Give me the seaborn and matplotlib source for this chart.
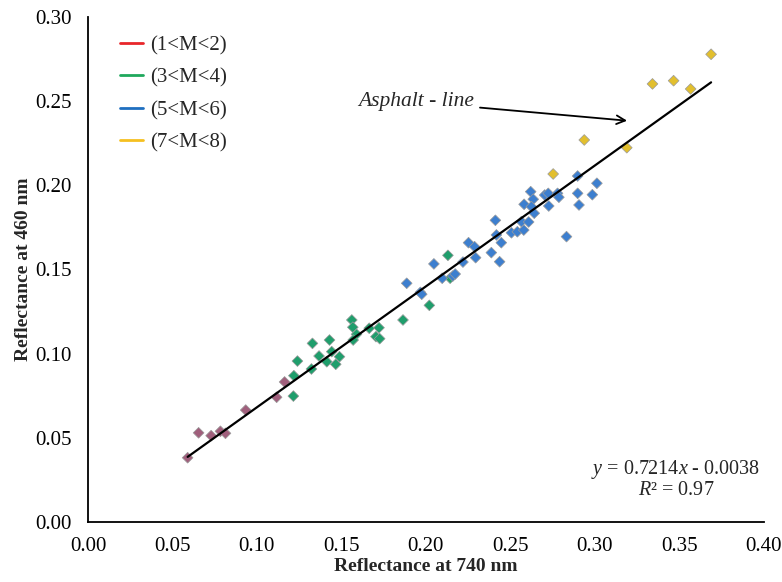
import numpy as np
import pandas as pd
import seaborn as sns
import matplotlib.pyplot as plt
from matplotlib.lines import Line2D

# reflectance values, per magnitude group
x_m12 = [0.0590, 0.0655, 0.0729, 0.0784, 0.0814, 0.0934, 0.1117, 0.1164]
y_m12 = [0.0382, 0.0530, 0.0513, 0.0539, 0.0527, 0.0665, 0.0741, 0.0832]

x_m34 = [0.1216, 0.1219, 0.1240, 0.1329, 0.1323, 0.1368, 0.1414, 0.1430,
         0.1443, 0.1467, 0.1489, 0.1562, 0.1568, 0.1590, 0.1570, 0.1665,
         0.1705, 0.1727, 0.1723, 0.1865, 0.2021, 0.2131, 0.2144]
y_m34 = [0.0748, 0.0869, 0.0956, 0.1061, 0.0909, 0.0986, 0.0952, 0.1081,
         0.1012, 0.0937, 0.0982, 0.1200, 0.1157, 0.1115, 0.1081, 0.1151,
         0.1101, 0.1089, 0.1154, 0.1200, 0.1287, 0.1584, 0.1448]

x_m56 = [0.1887, 0.1968, 0.1976, 0.2048, 0.2097, 0.2160, 0.2174, 0.2220,
         0.2253, 0.2289, 0.2295, 0.2388, 0.2412, 0.2418, 0.2437, 0.2447,
         0.2507, 0.2542, 0.2580, 0.2566, 0.2609, 0.2582, 0.2621, 0.2636,
         0.2625, 0.2642, 0.2704, 0.2725, 0.2728, 0.2780, 0.2788, 0.2833,
         0.2899, 0.2899, 0.2907, 0.2986, 0.3013]
y_m56 = [0.1418, 0.1364, 0.1353, 0.1533, 0.1448, 0.1461, 0.1473, 0.1544,
         0.1659, 0.1635, 0.1570, 0.1600, 0.1792, 0.1705, 0.1546, 0.1659,
         0.1718, 0.1724, 0.1734, 0.1784, 0.1782, 0.1887, 0.1962, 0.1917,
         0.1873, 0.1834, 0.1942, 0.1952, 0.1877, 0.1952, 0.1929, 0.1695,
         0.2055, 0.1952, 0.1883, 0.1944, 0.2012]

x_m78 = [0.2754, 0.2938, 0.3190, 0.3342, 0.3467, 0.3568, 0.3689]
y_m78 = [0.2067, 0.2269, 0.2223, 0.2602, 0.2621, 0.2572, 0.2778]

groups = ["(1<M<2)", "(3<M<4)", "(5<M<6)", "(7<M<8)"]
marker_colors = ["#a05f7c", "#1f9e6c", "#3d7fcf", "#e2bf2e"]
legend_colors = ["#e8262a", "#1fa85c", "#1f6fc0", "#f5c020"]

df = pd.concat([
    pd.DataFrame({"x": x_m12, "y": y_m12, "group": groups[0]}),
    pd.DataFrame({"x": x_m34, "y": y_m34, "group": groups[1]}),
    pd.DataFrame({"x": x_m56, "y": y_m56, "group": groups[2]}),
    pd.DataFrame({"x": x_m78, "y": y_m78, "group": groups[3]}),
], ignore_index=True)

sns.set_style("white")
plt.rcParams["font.family"] = ["Liberation Serif", "DejaVu Serif"]
plt.rcParams["mathtext.fontset"] = "custom"
plt.rcParams["mathtext.rm"] = "Liberation Serif"
plt.rcParams["mathtext.it"] = "Liberation Serif:italic"

fig = plt.figure(figsize=(7.82, 5.82), dpi=100)
ax = fig.add_axes([0.1125, 0.103, 0.864, 0.868])

sns.scatterplot(data=df, x="x", y="y", hue="group", palette=marker_colors,
                marker="D", s=30, edgecolor="#9a9a9a", linewidth=0.5,
                legend=False, ax=ax, zorder=3)
sns.regplot(data=df, x="x", y="y", scatter=False, ci=None, ax=ax,
            line_kws={"color": "black", "linewidth": 1.6, "zorder": 4})

ax.set_xlim(0, 0.40)
ax.set_ylim(0, 0.30)
ax.set_xticks(np.arange(0, 0.401, 0.05))
ax.set_yticks(np.arange(0, 0.301, 0.05))
ax.xaxis.set_major_formatter(plt.FormatStrFormatter("%.2f"))
ax.yaxis.set_major_formatter(plt.FormatStrFormatter("%.2f"))
ax.tick_params(direction="in", length=5, width=1.2, labelsize=15,
               colors="black")
ax.tick_params(axis="x", pad=11)
ax.tick_params(axis="y", pad=12)
for side in ["top", "right"]:
    ax.spines[side].set_visible(False)
for side in ["left", "bottom"]:
    ax.spines[side].set_color("black")
    ax.spines[side].set_linewidth(1.3)

ax.set_xlabel("Reflectance at 740 nm", fontsize=14, fontweight="bold", labelpad=1)
ax.set_ylabel("Reflectance at 460 nm", fontsize=14, fontweight="bold", labelpad=2)

handles = [Line2D([0], [0], color=c, lw=2) for c in legend_colors]
ax.legend(handles, groups, loc="upper left", bbox_to_anchor=(0.02, 1.0),
          frameon=False, fontsize=15, handlelength=1.1, handletextpad=0.35,
          labelspacing=0.62)

ax.annotate("Asphalt - line", xy=(0.3208, 0.2382), xytext=(0.2285, 0.2495),
            fontsize=15.5, style="italic", ha="right", va="center",
            arrowprops=dict(arrowstyle="->", color="black", lw=1.3))

ax.text(0.348, 0.0255, "$y$ = 0.7214$x$ - 0.0038\n$R$² = 0.97",
        fontsize=14.5, ha="center", va="center", multialignment="center",
        linespacing=0.95)

fig.savefig("out.png", dpi=100)
